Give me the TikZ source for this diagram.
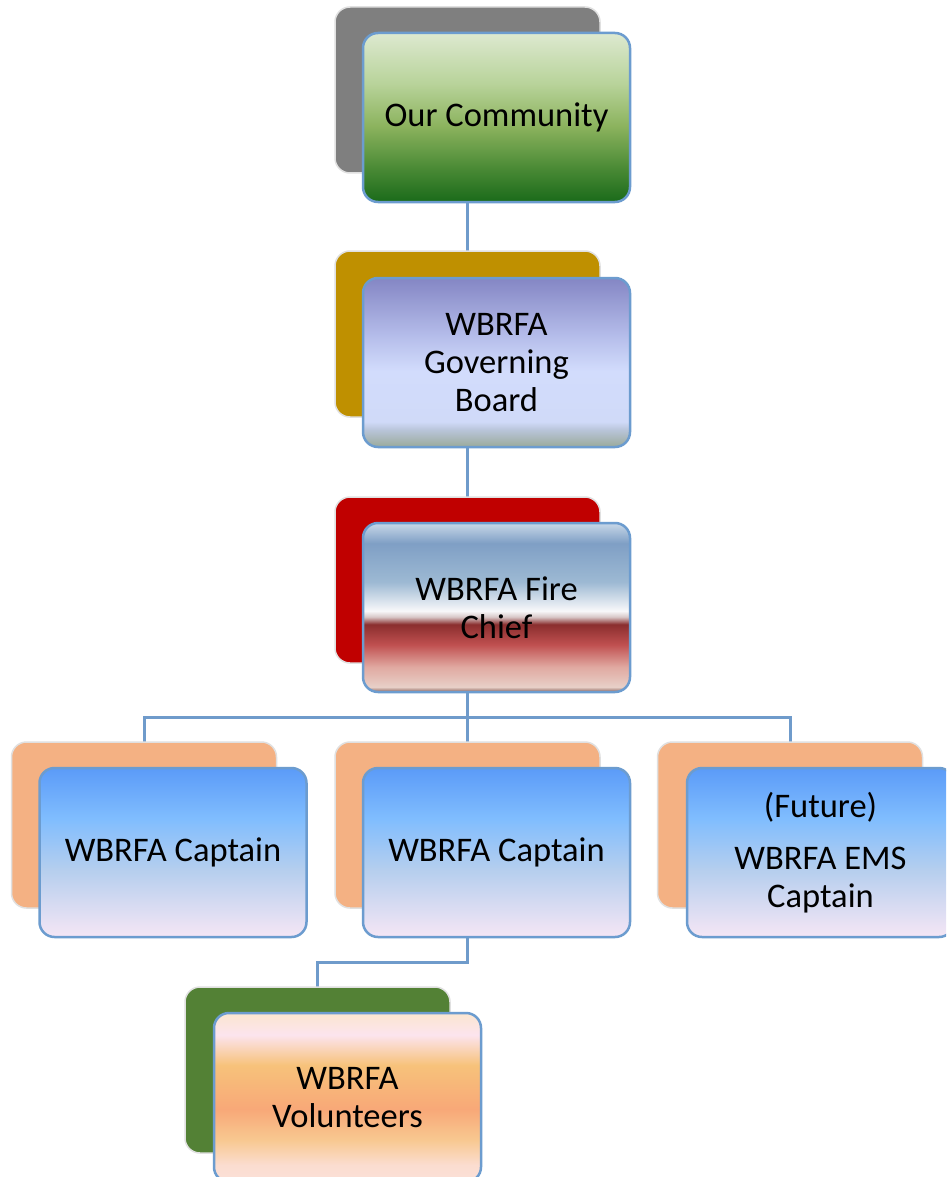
\documentclass[tikz,border=0pt]{standalone}
\usepackage{fontspec}
\setmainfont{Carlito}
\pgfdeclarelayer{bg}
\pgfsetlayers{bg,main}
\definecolor{edgeblue}{HTML}{6C9CCF}
\definecolor{lineblue}{HTML}{6F9BCB}
\definecolor{backgray}{HTML}{7F7F7F}
\definecolor{backgold}{HTML}{BF9000}
\definecolor{backred}{HTML}{C00000}
\definecolor{backpeach}{HTML}{F4B183}
\definecolor{backgreen}{HTML}{538135}
% community
\definecolor{cmA}{HTML}{1A6A1A}\definecolor{cmB}{HTML}{4A8A35}\definecolor{cmC}{HTML}{8CB35E}
\definecolor{cmD}{HTML}{B8D39A}\definecolor{cmE}{HTML}{DDE9D0}
\pgfdeclareverticalshading{commshade}{100bp}{color(0bp)=(cmA); color(25bp)=(cmA); color(35bp)=(cmB); color(47.5bp)=(cmC); color(60bp)=(cmD); color(75bp)=(cmE); color(100bp)=(cmE)}
% governing
\definecolor{gvA}{HTML}{9AAA9A}\definecolor{gvB}{HTML}{B8C4D8}\definecolor{gvC}{HTML}{D0DAF8}
\definecolor{gvD}{HTML}{D2DCFC}\definecolor{gvE}{HTML}{B6BEEB}\definecolor{gvF}{HTML}{8486C4}
\pgfdeclareverticalshading{govshade}{100bp}{color(0bp)=(gvA); color(25bp)=(gvA); color(30bp)=(gvB); color(32.5bp)=(gvC); color(47.5bp)=(gvD); color(57.5bp)=(gvE); color(75bp)=(gvF); color(100bp)=(gvF)}
% chief
\definecolor{chA}{HTML}{8A6058}\definecolor{chB}{HTML}{E8D0C8}\definecolor{chC}{HTML}{E0A8A0}
\definecolor{chD}{HTML}{C05050}\definecolor{chE}{HTML}{8A2E2E}\definecolor{chF}{HTML}{D8C8C8}
\definecolor{chG}{HTML}{F8F8FA}\definecolor{chH}{HTML}{9DB9D3}\definecolor{chI}{HTML}{7F9FC5}
\definecolor{chJ}{HTML}{C8D8E8}
\pgfdeclareverticalshading{chiefshade}{100bp}{color(0bp)=(chA); color(25bp)=(chA); color(26.5bp)=(chB); color(32.5bp)=(chC); color(39bp)=(chD); color(45bp)=(chE); color(47.25bp)=(chF); color(49bp)=(chG); color(57.5bp)=(chH); color(69bp)=(chI); color(75bp)=(chJ); color(100bp)=(chJ)}
% captain
\definecolor{cpA}{HTML}{F5E6F5}\definecolor{cpB}{HTML}{B5CEEE}\definecolor{cpC}{HTML}{80BDFE}
\definecolor{cpD}{HTML}{5B9BF8}
\pgfdeclareverticalshading{capshade}{100bp}{color(0bp)=(cpA); color(25bp)=(cpA); color(45bp)=(cpB); color(60bp)=(cpC); color(75bp)=(cpD); color(100bp)=(cpD)}
% volunteers
\definecolor{vlA}{HTML}{FBE0D8}\definecolor{vlB}{HTML}{FBDDD0}\definecolor{vlC}{HTML}{F8C890}
\definecolor{vlD}{HTML}{F8A878}\definecolor{vlE}{HTML}{F7C27A}\definecolor{vlF}{HTML}{FCE4EE}
\definecolor{vlG}{HTML}{FBE6D0}
\pgfdeclareverticalshading{volshade}{100bp}{color(0bp)=(vlA); color(25bp)=(vlA); color(30bp)=(vlB); color(37.5bp)=(vlC); color(46.5bp)=(vlD); color(59.5bp)=(vlE); color(68.5bp)=(vlF); color(75bp)=(vlG); color(100bp)=(vlG)}

\tikzset{
  backbox/.style={rounded corners=15pt, minimum width=265pt, minimum height=166pt,
    draw=black!12, line width=1.5pt, inner sep=0pt},
  frontbox/.style={rounded corners=15pt, minimum width=267pt, minimum height=169pt,
    draw=edgeblue, line width=2.5pt, align=center, inner sep=0pt,
    font=\fontsize{34.5}{38}\selectfont, text=black},
  connector/.style={draw=lineblue, line width=3pt}
}

\begin{document}
\begin{tikzpicture}[x=1pt,y=-1pt]
\clip (0,0) rectangle (946,1177);

\node[backbox, fill=backgray]  (commback)  at (467.5,90) {};
\node[frontbox, shading=commshade] (comm) at (496.5,117.5) {Our Community};

\node[backbox, fill=backgold]  (govback)   at (467.5,334) {};
\node[frontbox, shading=govshade] (gov) at (496.5,362.5) {WBRFA\\Governing\\Board};

\node[backbox, fill=backred]   (chiefback) at (467.5,580) {};
\node[frontbox, shading=chiefshade] (chief) at (496.5,607.5) {WBRFA Fire\\Chief};

\node[backbox, fill=backpeach] (capAback)  at (144,825) {};
\node[frontbox, shading=capshade] (capA) at (173,852.5) {WBRFA Captain};

\node[backbox, fill=backpeach] (capBback)  at (467.5,825) {};
\node[frontbox, shading=capshade] (capB) at (496.5,852.5) {WBRFA Captain};

\node[backbox, fill=backpeach] (capCback)  at (790,825) {};
\node[frontbox, shading=capshade] (capC) at (820.5,852.5) {(Future)\\[14pt]WBRFA EMS\\Captain};

\node[backbox, fill=backgreen] (volback)   at (317.5,1070) {};
\node[frontbox, shading=volshade] (vol) at (347.5,1097.5) {WBRFA\\Volunteers};

\coordinate (bus) at (467.5,717);
\coordinate (vbus) at (467.5,962);

\begin{pgfonlayer}{bg}
\fill[white] (0,0) rectangle (946,1177);
\draw[connector] (commback.center) -- (govback.center);
\draw[connector] (govback.center) -- (chiefback.center);
\draw[connector] (chiefback.center) -- (bus);
\draw[connector] (bus) -| (capAback.center);
\draw[connector] (bus) -| (capCback.center);
\draw[connector] (bus) -- (capBback.center);
\draw[connector] (capBback.center) -- (vbus) -| (volback.center);
\end{pgfonlayer}
\end{tikzpicture}
\end{document}
